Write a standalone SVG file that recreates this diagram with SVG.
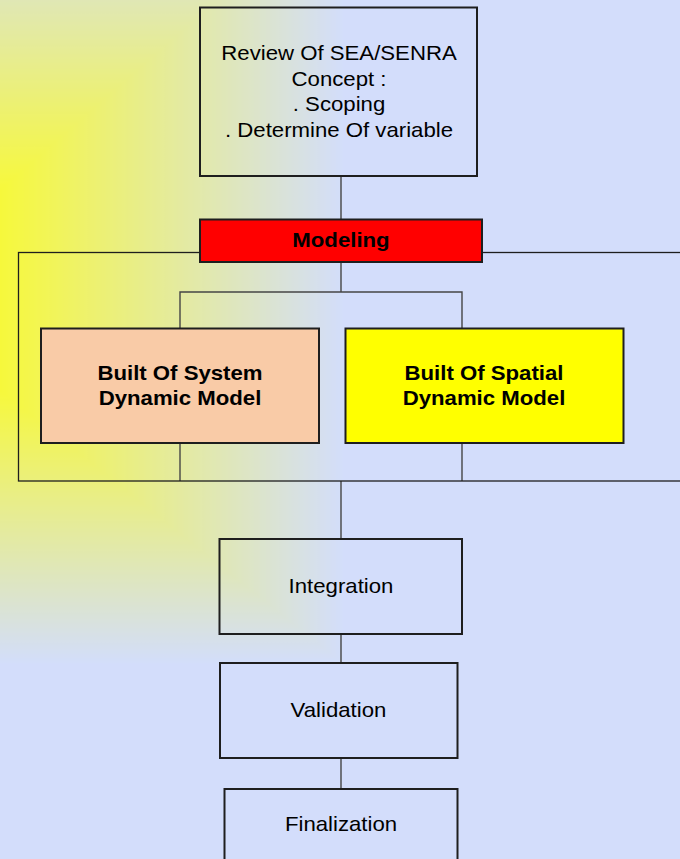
<svg xmlns="http://www.w3.org/2000/svg" width="680" height="859" viewBox="0 0 680 859">
  <style>
    .box { stroke: #1e1e1e; stroke-width: 2; }
    .hollow { fill: none; }
    .conn { stroke: #454545; stroke-width: 1.4; fill: none; }
    .frame { stroke: #1e1e1e; stroke-width: 1.3; fill: none; }
    .t { font-family: "Liberation Sans", Arial, sans-serif; font-size: 20px; fill: #000; text-anchor: middle; }
    .b { font-weight: bold; }
  </style>
  <defs>
    <linearGradient id="hg" gradientUnits="userSpaceOnUse" x1="0" y1="0" x2="345" y2="0">
      <stop offset="0" stop-color="#000"/>
      <stop offset="1" stop-color="#fff"/>
    </linearGradient>
    <linearGradient id="vg" gradientUnits="userSpaceOnUse" x1="0" y1="-111" x2="0" y2="665">
      <stop offset="0" stop-color="#fff"/>
      <stop offset="0.388" stop-color="#000"/>
      <stop offset="0.646" stop-color="#000"/>
      <stop offset="1" stop-color="#fff"/>
    </linearGradient>
    <filter id="tint" x="0" y="0" width="680" height="859" filterUnits="userSpaceOnUse" color-interpolation-filters="sRGB">
      <feComponentTransfer>
        <feFuncR type="linear" slope="-0.141" intercept="0.969"/>
        <feFuncG type="linear" slope="-0.106" intercept="0.976"/>
        <feFuncB type="linear" slope="0.753" intercept="0.235"/>
      </feComponentTransfer>
    </filter>
  </defs>

  <g id="background" filter="url(#tint)">
    <rect x="0" y="0" width="680" height="859" fill="url(#hg)"/>
    <rect x="0" y="0" width="680" height="859" fill="url(#vg)" style="mix-blend-mode:lighten"/>
  </g>

  <g id="connectors">
    <line class="conn" x1="341" y1="176" x2="341" y2="219"/>
    <line class="conn" x1="341" y1="262" x2="341" y2="292"/>
    <polyline class="conn" points="180,328.5 180,292 462,292 462,328.5"/>
    <line class="conn" x1="180" y1="443" x2="180" y2="481"/>
    <line class="conn" x1="462" y1="443" x2="462" y2="481"/>
    <line class="conn" x1="341" y1="481" x2="341" y2="539"/>
    <line class="conn" x1="341" y1="634" x2="341" y2="663"/>
    <line class="conn" x1="341" y1="758" x2="341" y2="789"/>
  </g>

  <g id="modeling-frame">
    <rect class="frame" x="18.5" y="252.5" width="700" height="228.5"/>
  </g>

  <g id="review">
    <rect class="box hollow" x="200" y="7.5" width="277" height="168.5"/>
    <g class="t">
      <text transform="translate(339,60) scale(1.11,1)">Review Of SEA/SENRA</text>
      <text transform="translate(339,85.5) scale(1.11,1)">Concept :</text>
      <text transform="translate(339,111) scale(1.11,1)">. Scoping</text>
      <text transform="translate(339,136.5) scale(1.11,1)">. Determine Of variable</text>
    </g>
  </g>

  <g id="modeling">
    <rect class="box" x="200" y="219.5" width="282" height="42.5" fill="#ff0000"/>
    <text class="t b" transform="translate(341,247) scale(1.11,1)">Modeling</text>
  </g>

  <g id="system-dynamic">
    <rect class="box" x="41" y="328.5" width="278" height="114.5" fill="#f9cba7"/>
    <text class="t b" transform="translate(180,380) scale(1.11,1)">Built Of System</text>
    <text class="t b" transform="translate(180,405) scale(1.11,1)">Dynamic Model</text>
  </g>

  <g id="spatial-dynamic">
    <rect class="box" x="345.5" y="328.5" width="278" height="114.5" fill="#ffff00"/>
    <text class="t b" transform="translate(484,380) scale(1.11,1)">Built Of Spatial</text>
    <text class="t b" transform="translate(484,405) scale(1.11,1)">Dynamic Model</text>
  </g>

  <g id="integration">
    <rect class="box hollow" x="219.5" y="539" width="242.5" height="95"/>
    <text class="t" transform="translate(341,593) scale(1.11,1)">Integration</text>
  </g>

  <g id="validation">
    <rect class="box hollow" x="220" y="663" width="237.5" height="95"/>
    <text class="t" transform="translate(338.5,717) scale(1.11,1)">Validation</text>
  </g>

  <g id="finalization">
    <rect class="box hollow" x="224.5" y="789" width="233" height="90"/>
    <text class="t" transform="translate(341,831) scale(1.11,1)">Finalization</text>
  </g>
</svg>
